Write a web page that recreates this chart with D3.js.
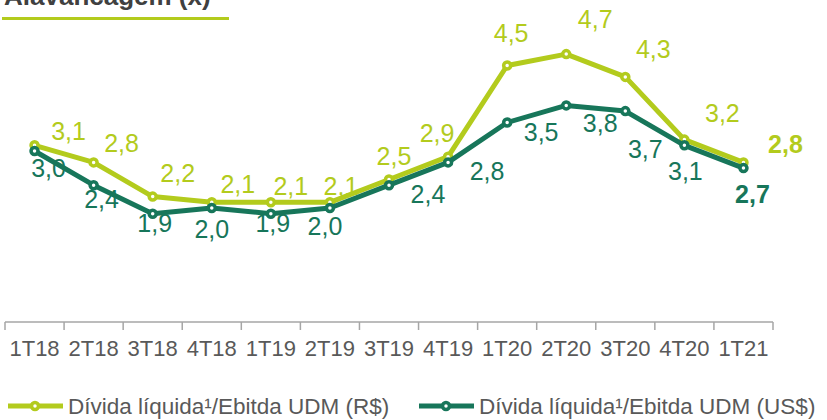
<!DOCTYPE html>
<html lang="pt">
<head>
  <meta charset="UTF-8">
  <title>Alavancagem (x)</title>
  <style>
    body { margin: 0; background: #fff; }
    svg { display: block; font-family: "Liberation Sans", Arial, sans-serif; }
    .axis line { stroke: #a6a6a6; stroke-width: 1.5; }
  </style>
</head>
<body>
  <script src="https://d3js.org/d3.v7.min.js"></script>
  <script>
    // data
    const quarters = ['1T18','2T18','3T18','4T18','1T19','2T19','3T19','4T19','1T20','2T20','3T20','4T20','1T21'];
    const dividaBRL = [3.1, 2.8, 2.2, 2.1, 2.1, 2.1, 2.5, 2.9, 4.5, 4.7, 4.3, 3.2, 2.8];
    const dividaUSD = [3.0, 2.4, 1.9, 2.0, 1.9, 2.0, 2.4, 2.8, 3.5, 3.8, 3.7, 3.1, 2.7];
    const seriesNames = ['Dívida líquida¹/Ebitda UDM (R$)', 'Dívida líquida¹/Ebitda UDM (US$)'];

    // label placement (dx, dy from the point)
    const offBRL = [[34,-5],[28,-10],[25,-15],[26,-9],[20,-7],[11,-7],[5,-15],[-11,-15],[4,-24],[29,-26],[28,-19],[38,-18],[42,-9]];
    const offUSD = [[14,26],[8,23],[2,18],[0,30],[2,18],[-5,27],[39,18],[39,18],[34,18],[34,27],[20,47],[1,35],[9,35]];

    const W = 827, H = 420;
    const LIGHT = '#b3cb1d', DARK = '#17765a';

    const svg = d3.select('body').append('svg')
      .attr('width', W).attr('height', H);

    // title, cut off at the top
    svg.append('text')
      .attr('x', 4).attr('y', 5)
      .attr('font-size', 26).attr('font-weight', 'bold')
      .attr('fill', '#404040')
      .text('Alavancagem (x)');
    svg.append('line')
      .attr('x1', 2).attr('x2', 229).attr('y1', 18.5).attr('y2', 18.5)
      .attr('stroke', LIGHT).attr('stroke-width', 3);

    const x = d3.scaleBand().domain(quarters).range([5, 773]).padding(0);
    const y = d3.scaleLinear().domain([0, 5]).range([322, 37]);
    const cx = d => x(d) + x.bandwidth() / 2;

    // axis with ticks between categories
    const axis = svg.append('g').attr('class', 'axis');
    axis.append('line')
      .attr('x1', 5).attr('x2', 773).attr('y1', 322).attr('y2', 322);
    const edges = quarters.map(q => x(q)).concat([773]);
    axis.selectAll('line.tk').data(edges).enter().append('line')
      .attr('class', 'tk')
      .attr('x1', d => d).attr('x2', d => d)
      .attr('y1', 322).attr('y2', 330);
    axis.selectAll('text').data(quarters).enter().append('text')
      .attr('x', cx).attr('y', 356)
      .attr('text-anchor', 'middle')
      .attr('fill', '#595959').attr('font-size', 22)
      .text(d => d);

    const fmt = v => d3.format('.1f')(v).replace('.', ',');

    function drawSeries (values, color, offs) {
      const pts = values.map((v, i) => [cx(quarters[i]), y(v)]);
      const g = svg.append('g');
      g.append('path')
        .attr('d', d3.line()(pts))
        .attr('fill', 'none')
        .attr('stroke', color)
        .attr('stroke-width', 5)
        .attr('stroke-linejoin', 'round');
      g.selectAll('circle.m').data(pts).enter().append('circle')
        .attr('cx', d => d[0]).attr('cy', d => d[1])
        .attr('r', 3.5).attr('fill', '#fff')
        .attr('stroke', color).attr('stroke-width', 3.5);
      g.selectAll('text').data(values).enter().append('text')
        .attr('x', (d, i) => pts[i][0] + offs[i][0])
        .attr('y', (d, i) => pts[i][1] + offs[i][1])
        .attr('text-anchor', 'middle')
        .attr('font-size', 25)
        .attr('font-weight', (d, i) => i === values.length - 1 ? 'bold' : 'normal')
        .attr('fill', color)
        .text(fmt);
    }

    drawSeries(dividaBRL, LIGHT, offBRL);
    drawSeries(dividaUSD, DARK, offUSD);

    // legend
    const legend = svg.append('g');
    const legendX = [8, 419];
    [LIGHT, DARK].forEach((c, i) => {
      const lg = legend.append('g').attr('transform', `translate(${legendX[i]},406)`);
      lg.append('line').attr('x1', 0).attr('x2', 55).attr('y1', 0).attr('y2', 0)
        .attr('stroke', c).attr('stroke-width', 5);
      lg.append('circle').attr('cx', 27).attr('cy', 0).attr('r', 3.5)
        .attr('fill', '#fff').attr('stroke', c).attr('stroke-width', 3.5);
      lg.append('text').attr('x', 60).attr('y', 8)
        .attr('fill', '#595959').attr('font-size', 22.5)
        .text(seriesNames[i]);
    });
  </script>
</body>
</html>
